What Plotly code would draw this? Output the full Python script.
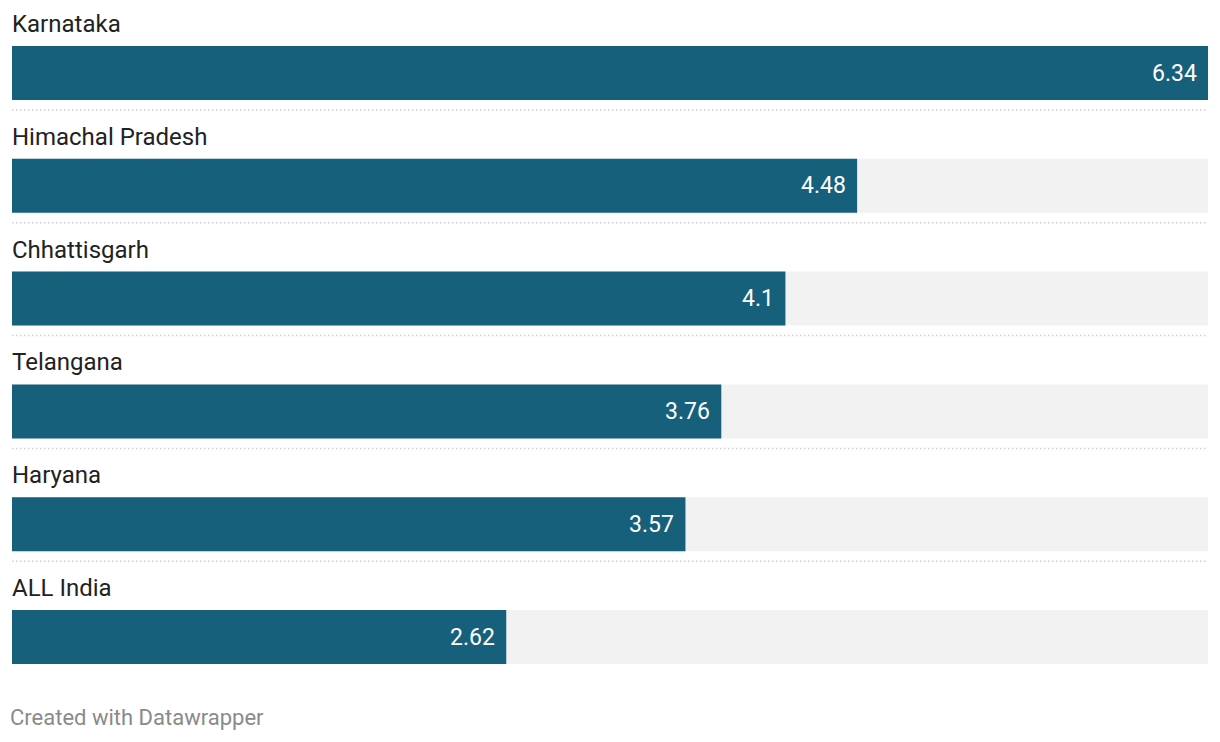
import plotly.graph_objects as go

states = ["Karnataka", "Himachal Pradesh", "Chhattisgarh", "Telangana", "Haryana", "ALL India"]
values = [6.34, 4.48, 4.1, 3.76, 3.57, 2.62]
value_labels = ["6.34", "4.48", "4.1", "3.76", "3.57", "2.62"]

W, H = 1220, 742
OFF = 8                 # page body offset
pitch = 112.8           # px per row
first_center = 73 - OFF # px of first bar center (figure coords)
bar_px = 54
xmax = max(values)

pos = list(range(len(states)))
y_top = -first_center / pitch
y_bot = (H - first_center) / pitch

fig = go.Figure()
fig.add_trace(go.Bar(
    y=pos, x=[xmax] * len(states), orientation="h",
    marker=dict(color="#f2f2f2", line=dict(width=0)),
    width=bar_px / pitch, hoverinfo="skip", showlegend=False,
))
fig.add_trace(go.Bar(
    y=pos, x=values, orientation="h",
    marker=dict(color="#17607b", line=dict(width=0)),
    width=bar_px / pitch, showlegend=False,
))

annotations = []
shapes = []
for i, (s, v, t) in enumerate(zip(states, values, value_labels)):
    annotations.append(dict(
        x=0, y=i, xref="x", yref="y", text=s, showarrow=False,
        xanchor="left", yanchor="middle", yshift=49, xshift=-2,
        font=dict(family="Roboto", size=24, color="#222222"),
    ))
    annotations.append(dict(
        x=v, y=i, xref="x", yref="y", text=t, showarrow=False,
        xanchor="right", yanchor="middle", xshift=-9, yshift=0,
        font=dict(family="Roboto", size=23, color="#ffffff"),
    ))
    if i < len(states) - 1:
        yy = i + 37 / pitch
        shapes.append(dict(
            type="line", xref="x", yref="y", x0=0, x1=xmax, y0=yy, y1=yy,
            line=dict(color="#cfcfcf", width=1.5, dash="1.5px,2.5px"),
        ))

L, R = 12 - OFF, 12 + OFF
annotations.append(dict(
    x=(8 - OFF - L) / (W - L - R), y=(H - (717 - OFF)) / H,
    xref="paper", yref="paper", text="Created with Datawrapper",
    showarrow=False, xanchor="left", yanchor="middle",
    font=dict(family="Roboto", size=22, color="#8a8a8a"),
))

fig.update_layout(
    width=W, height=H,
    margin=dict(l=L, r=R, t=0, b=0),
    paper_bgcolor="white", plot_bgcolor="white",
    barmode="overlay",
    xaxis=dict(range=[0, xmax], visible=False, fixedrange=True),
    yaxis=dict(range=[y_bot, y_top], visible=False, fixedrange=True),
    annotations=annotations, shapes=shapes,
)

fig.write_html("out.html")
